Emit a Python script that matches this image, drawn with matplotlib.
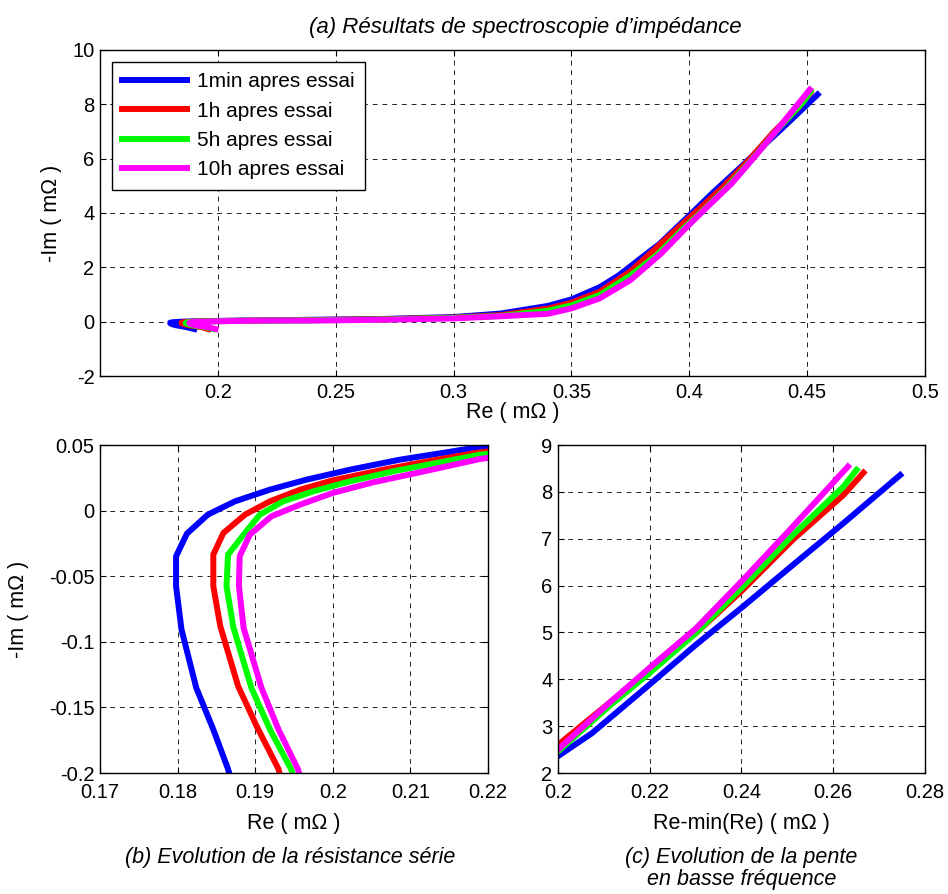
#!/usr/bin/env python
# -*- coding: utf-8 -*-

# spectroscopie d'impedance : 3 panneaux (Nyquist, zoom Rs, pente BF)

import numpy as np
import matplotlib
matplotlib.use("Agg")
import matplotlib.pyplot as plt
from matplotlib.ticker import FuncFormatter

plt.rcParams['font.family'] = ['Liberation Sans', 'DejaVu Sans']
plt.rcParams['font.size'] = 14.5

labels = ["1min apres essai", "1h apres essai", "5h apres essai", "10h apres essai"]
colors = ["#0000ff", "#ff0000", "#00ff00", "#ff00ff"]

# zone haute frequence (panneau b), Re / -Im en mOhm
re_hf_1min = [0.1900, 0.1865, 0.1846, 0.1824, 0.1805, 0.1798, 0.1798, 0.1812, 0.1839,
              0.1874, 0.1919, 0.1966, 0.2022, 0.2086, 0.2146, 0.2189, 0.2225]
im_hf_1min = [-0.270, -0.197, -0.1668, -0.135, -0.0906, -0.0576, -0.0348, -0.0175, -0.003,
              0.0071, 0.016, 0.0236, 0.0312, 0.0388, 0.0444, 0.0485, 0.0505]
re_hf_1h = [0.1960, 0.1930, 0.1902, 0.1878, 0.1855, 0.1846, 0.1846, 0.1859, 0.1887,
            0.1919, 0.1958, 0.2000, 0.2065, 0.2129, 0.2189, 0.2225]
im_hf_1h = [-0.270, -0.197, -0.1645, -0.1338, -0.0881, -0.0576, -0.0335, -0.017, -0.003,
            0.0071, 0.016, 0.0231, 0.0312, 0.0383, 0.0444, 0.0467]
re_hf_5h = [0.1980, 0.1947, 0.1919, 0.1895, 0.1872, 0.1863, 0.1865, 0.1885, 0.1906,
            0.1936, 0.1975, 0.2022, 0.2078, 0.2138, 0.2189, 0.2225]
im_hf_5h = [-0.270, -0.198, -0.1668, -0.135, -0.0893, -0.0576, -0.0335, -0.0183, -0.003,
            0.0071, 0.0147, 0.0223, 0.030, 0.0368, 0.0426, 0.0447]
re_hf_10h = [0.1990, 0.1955, 0.1930, 0.1908, 0.1885, 0.1879, 0.1880, 0.1893, 0.1921,
             0.1958, 0.2000, 0.2052, 0.2108, 0.2189, 0.2225]
im_hf_10h = [-0.270, -0.197, -0.1668, -0.135, -0.0893, -0.0576, -0.0348, -0.0183, -0.0043,
             0.0046, 0.0135, 0.0216, 0.0287, 0.0393, 0.0422]

# zone intermediaire (panneau a seulement)
re_mid_1min = [0.24, 0.27, 0.30, 0.32, 0.34, 0.35, 0.362, 0.37]
im_mid_1min = [0.07, 0.10, 0.17, 0.30, 0.58, 0.82, 1.27, 1.70]
re_mid_1h = [0.24, 0.27, 0.30, 0.32, 0.34, 0.35, 0.362, 0.375]
im_mid_1h = [0.06, 0.09, 0.15, 0.24, 0.48, 0.70, 1.10, 1.85]
re_mid_5h = [0.24, 0.27, 0.30, 0.32, 0.34, 0.35, 0.362, 0.375]
im_mid_5h = [0.05, 0.08, 0.14, 0.21, 0.40, 0.60, 0.98, 1.70]
re_mid_10h = [0.24, 0.27, 0.30, 0.32, 0.34, 0.35, 0.362, 0.375]
im_mid_10h = [0.04, 0.07, 0.12, 0.20, 0.29, 0.49, 0.86, 1.53]

# zone basse frequence (panneau c), Re-min(Re)
dre_bf_1min = [0.2000, 0.2074, 0.2195, 0.2301, 0.2403, 0.2512, 0.2622, 0.2746]
im_bf_1min = [2.36, 2.85, 3.85, 4.74, 5.55, 6.44, 7.33, 8.36]
dre_bf_1h = [0.2000, 0.2111, 0.2199, 0.2301, 0.2403, 0.2512, 0.2622, 0.2666]
im_bf_1h = [2.60, 3.49, 4.17, 4.99, 5.91, 6.98, 7.93, 8.41]
dre_bf_5h = [0.2000, 0.2111, 0.2199, 0.2301, 0.2403, 0.2512, 0.2622, 0.2651]
im_bf_5h = [2.46, 3.42, 4.13, 4.99, 5.98, 7.08, 8.11, 8.47]
dre_bf_10h = [0.2000, 0.2111, 0.2199, 0.2301, 0.2403, 0.2512, 0.2632]
im_bf_10h = [2.50, 3.49, 4.24, 5.09, 6.12, 7.26, 8.54]

hf = [(re_hf_1min, im_hf_1min), (re_hf_1h, im_hf_1h), (re_hf_5h, im_hf_5h), (re_hf_10h, im_hf_10h)]
mid = [(re_mid_1min, im_mid_1min), (re_mid_1h, im_mid_1h), (re_mid_5h, im_mid_5h), (re_mid_10h, im_mid_10h)]
bf = [(dre_bf_1min, im_bf_1min), (dre_bf_1h, im_bf_1h), (dre_bf_5h, im_bf_5h), (dre_bf_10h, im_bf_10h)]

LW = 4.3
LAB = 15.5


def style_axes(ax):
    ax.grid(True, color="#222222", linestyle=(0, (5, 5)), linewidth=0.7)
    ax.set_axisbelow(True)
    ax.tick_params(direction="in", top=True, right=True, length=4, width=0.8,
                   labelsize=14.5)
    ax.tick_params(axis="x", pad=5)
    ax.tick_params(axis="y", pad=4)
    for s in ax.spines.values():
        s.set_linewidth(1.0)


def fmt(v, pos):
    return "%g" % round(v, 4)


fig = plt.figure(figsize=(9.48, 8.94), dpi=100)
ax_a = fig.add_axes([0.1055, 0.5794, 0.8703, 0.3647])
ax_b = fig.add_axes([0.1055, 0.1353, 0.4093, 0.3669])
ax_c = fig.add_axes([0.5886, 0.1353, 0.3871, 0.3669])

# (a) Nyquist complet
for i in range(4):
    re = np.concatenate([hf[i][0], mid[i][0], np.array(bf[i][0]) + min(hf[i][0])])
    im = np.concatenate([hf[i][1], mid[i][1], bf[i][1]])
    ax_a.plot(re, im, color=colors[i], linewidth=LW, label=labels[i],
              solid_joinstyle="round")
ax_a.set_xlim(0.15, 0.5)
ax_a.set_ylim(-2, 10)
ax_a.set_xticks([0.2, 0.25, 0.3, 0.35, 0.4, 0.45, 0.5])
ax_a.set_yticks(np.arange(-2, 11, 2))
ax_a.xaxis.set_major_formatter(FuncFormatter(fmt))
ax_a.yaxis.set_major_formatter(FuncFormatter(fmt))
style_axes(ax_a)
ax_a.set_xlabel("Re ( m\u03a9 )", fontsize=LAB, labelpad=0)
ax_a.set_ylabel("-Im ( m\u03a9 )", fontsize=LAB, labelpad=7)
ax_a.set_title("(a) R\u00e9sultats de spectroscopie d\u2019imp\u00e9dance",
               fontsize=16, style="italic", pad=12, x=0.516)
leg = ax_a.legend(loc="upper left", bbox_to_anchor=(0.014, 0.964), borderaxespad=0,
                  fancybox=False, edgecolor="k", framealpha=1, fontsize=15,
                  handlelength=3.1, handletextpad=0.5, labelspacing=0.5,
                  borderpad=0.5)
leg.get_frame().set_linewidth(1.0)

# (b) zoom haute frequence
for i in range(4):
    ax_b.plot(hf[i][0], hf[i][1], color=colors[i], linewidth=LW, solid_joinstyle="round")
ax_b.set_xlim(0.17, 0.22)
ax_b.set_ylim(-0.2, 0.05)
ax_b.set_xticks([0.17, 0.18, 0.19, 0.2, 0.21, 0.22])
ax_b.set_yticks([-0.2, -0.15, -0.1, -0.05, 0, 0.05])
ax_b.xaxis.set_major_formatter(FuncFormatter(fmt))
ax_b.yaxis.set_major_formatter(FuncFormatter(fmt))
style_axes(ax_b)
ax_b.tick_params(axis="x", pad=7)
ax_b.set_xlabel("Re ( m\u03a9 )", fontsize=LAB, labelpad=8)
ax_b.set_ylabel("-Im ( m\u03a9 )", fontsize=LAB, labelpad=14)

# (c) pente basse frequence
for i in range(4):
    ax_c.plot(bf[i][0], bf[i][1], color=colors[i], linewidth=LW, solid_joinstyle="round")
ax_c.set_xlim(0.2, 0.28)
ax_c.set_ylim(2, 9)
ax_c.set_xticks([0.2, 0.22, 0.24, 0.26, 0.28])
ax_c.set_yticks(np.arange(2, 10, 1))
ax_c.xaxis.set_major_formatter(FuncFormatter(fmt))
ax_c.yaxis.set_major_formatter(FuncFormatter(fmt))
style_axes(ax_c)
ax_c.tick_params(axis="x", pad=7)
ax_c.set_xlabel("Re-min(Re) ( m\u03a9 )", fontsize=LAB, labelpad=8)

fig.text(0.306, 1 - 858 / 894, "(b) Evolution de la r\u00e9sistance s\u00e9rie", ha="center",
         va="center", style="italic", fontsize=15.5)
fig.text(0.782, 1 - 857 / 894, "(c) Evolution de la pente", ha="center",
         va="center", style="italic", fontsize=15.5)
fig.text(0.782, 1 - 880 / 894, "en basse fr\u00e9quence", ha="center",
         va="center", style="italic", fontsize=15.5)

fig.savefig("out.png", dpi=100)
